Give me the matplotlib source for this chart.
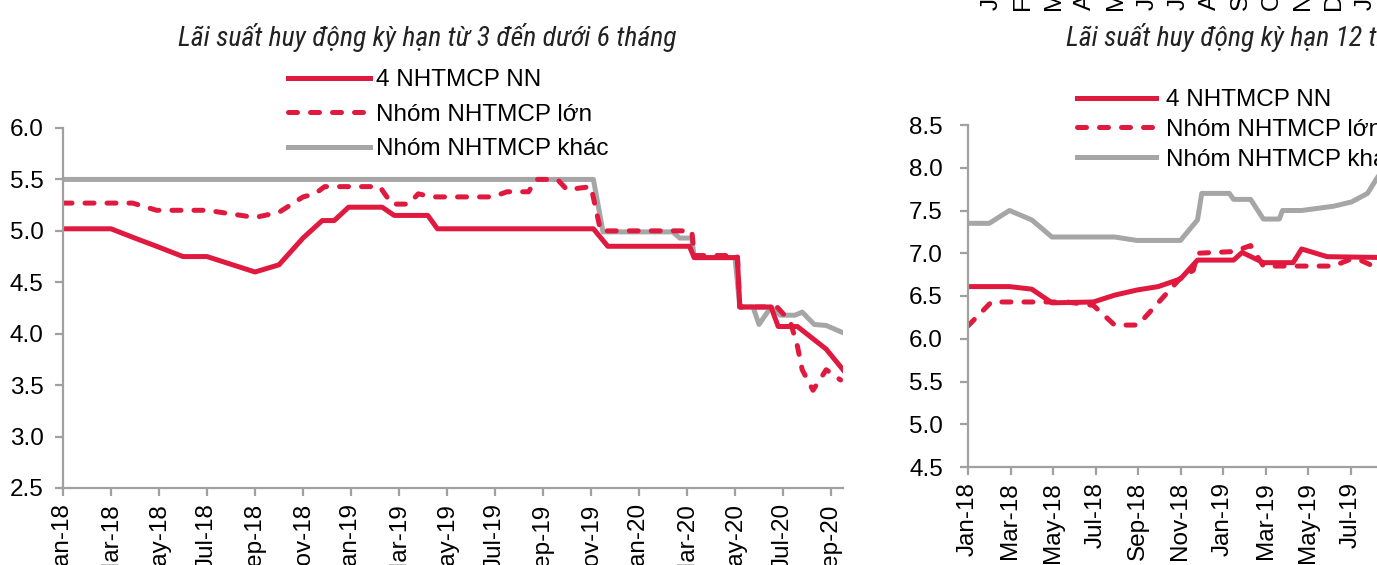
import matplotlib
matplotlib.use("Agg")
import matplotlib.pyplot as plt
from matplotlib import font_manager

RED = "#E0193F"
GREY = "#A6A6A6"
SPINE = "#A0A0A0"

labels = ["4 NHTMCP NN", "Nhóm NHTMCP lớn", "Nhóm NHTMCP khác"]
tick_labels = ["Jan-18", "Mar-18", "May-18", "Jul-18", "Sep-18", "Nov-18",
               "Jan-19", "Mar-19", "May-19", "Jul-19", "Sep-19", "Nov-19",
               "Jan-20", "Mar-20", "May-20", "Jul-20", "Sep-20"]
# labels of the chart above, only their first letters show at the top edge
top_labels = ["Jan-19", "Feb-19", "Mar-19", "Apr-19", "May-19", "Jun-19", "Jul-19",
              "Aug-19", "Sep-19", "Oct-19", "Nov-19", "Dec-19", "Jan-20"]

# x = months since Jan-18
# --- 3 to under 6 months ---
s_nn_x = [0, 2, 3.1, 3.9, 5, 6, 8, 9, 10, 10.8, 11.3, 11.9, 13.3, 13.8, 15.2, 15.6,
          22.1, 22.7, 26.1, 26.3, 28.1, 28.2, 29.5, 29.8, 30.6, 31.8, 32.5]
s_nn_y = [5.02, 5.02, 4.92, 4.85, 4.75, 4.75, 4.60, 4.67, 4.93, 5.10, 5.10, 5.23, 5.23, 5.15, 5.15, 5.02,
          5.02, 4.85, 4.85, 4.74, 4.74, 4.26, 4.26, 4.07, 4.07, 3.85, 3.65]
s_lon_x = [0, 2.9, 3.9, 6, 8, 9, 10, 10.5, 10.9, 13.2, 13.7, 14.4, 14.8, 15.4, 17.9, 18.5,
           19.4, 19.7, 20.6, 21, 22, 22.4, 26.2, 26.3, 28.1, 28.2, 29.75, 30.3, 30.6, 30.8,
           31.25, 31.8, 32.4]
s_lon_y = [5.27, 5.27, 5.20, 5.20, 5.13, 5.18, 5.33, 5.36, 5.43, 5.43, 5.26, 5.26, 5.36, 5.33, 5.33, 5.38,
           5.38, 5.50, 5.50, 5.40, 5.43, 5.00, 5.00, 4.76, 4.76, 4.26, 4.26, 4.12, 3.88, 3.65,
           3.45, 3.65, 3.55]
s_khac_x = [0, 22.1, 22.5, 25.4, 25.7, 26.2, 26.3, 28.0, 28.2, 28.75, 29.0, 29.5, 29.9, 30.5,
            30.8, 31.3, 31.8, 32.5]
s_khac_y = [5.50, 5.50, 4.99, 4.99, 4.93, 4.93, 4.74, 4.74, 4.26, 4.26, 4.09, 4.26, 4.18, 4.18,
            4.21, 4.09, 4.08, 4.01]

# --- 12 months ---
l_nn_x = [0, 1.95, 3.0, 3.95, 5.9, 6.9, 7.95, 8.95, 10, 10.8, 12.5, 12.9, 13.9, 15.3, 15.7, 16.9, 19.6]
l_nn_y = [6.61, 6.61, 6.58, 6.42, 6.43, 6.51, 6.57, 6.61, 6.70, 6.92, 6.92, 7.01, 6.89, 6.89, 7.05, 6.96, 6.95]
l_lon_x = [0, 1.1, 3.85, 4.65, 5.9, 6.9, 8.0, 9.2, 10, 10.6, 10.8, 12.5, 13.3, 13.9, 17.2, 18.0,
           18.45, 19.25, 19.6]
l_lon_y = [6.15, 6.43, 6.43, 6.43, 6.39, 6.16, 6.16, 6.49, 6.71, 6.80, 7.00, 7.02, 7.09, 6.85, 6.85, 6.93,
           6.92, 6.83, 6.82]
l_khac_x = [0, 1.0, 1.95, 3.0, 3.95, 6.9, 7.95, 10.0, 10.8, 11.0, 12.3, 12.5, 13.3, 13.9, 14.65,
            14.8, 15.7, 17.2, 18.05, 18.8, 19.25, 19.6]
l_khac_y = [7.35, 7.35, 7.50, 7.39, 7.19, 7.19, 7.15, 7.15, 7.39, 7.70, 7.70, 7.63, 7.63, 7.40, 7.40,
            7.50, 7.50, 7.55, 7.60, 7.70, 7.88, 8.0]

plt.rcParams["font.family"] = ["Liberation Sans", "DejaVu Sans"]

# a narrow italic face for the titles, if one is installed
names = {f.name for f in font_manager.fontManager.ttflist}
narrow = None
for cand in ["Liberation Sans Narrow", "Roboto Condensed", "Open Sans Condensed",
             "DejaVu Sans Condensed", "Noto Sans Condensed"]:
    if cand in names:
        narrow = cand
        break
if narrow:
    title_font = dict(family=[narrow, "DejaVu Sans"], style="italic", fontsize=20)
else:
    title_font = dict(family=["Liberation Sans", "DejaVu Sans"], style="italic", fontsize=17)
title_font["color"] = "#222222"

W, H = 1377, 565
fig = plt.figure(figsize=(W / 100, H / 100), dpi=100)


def px_axes(x0, x1, y_top, y_bot):
    return fig.add_axes([x0 / W, 1 - y_bot / H, (x1 - x0) / W, (y_bot - y_top) / H])


def style(ax, ylo, yhi, ypad):
    ax.set_xlim(0, 32.5)
    ax.set_ylim(ylo, yhi)
    ax.set_yticks([ylo + 0.5 * i for i in range(int(round((yhi - ylo) / 0.5)) + 1)])
    ax.yaxis.set_major_formatter(matplotlib.ticker.FormatStrFormatter("%.1f"))
    ax.set_xticks(range(0, 33, 2))
    ax.set_xticklabels(tick_labels, rotation=90)
    for s in ["top", "right"]:
        ax.spines[s].set_visible(False)
    for s in ["left", "bottom"]:
        ax.spines[s].set_color(SPINE)
        ax.spines[s].set_linewidth(1.6)
    ax.tick_params(axis="both", colors=SPINE, width=1.6, length=6, labelcolor="black",
                   labelsize=17.5)
    ax.tick_params(axis="x", pad=5)
    ax.tick_params(axis="y", pad=ypad)


def draw(ax, data):
    (nx, ny), (lx, ly), (kx, ky) = data
    ax.plot(nx, ny, color=RED, lw=3.6, solid_joinstyle="round", label=labels[0])
    ax.plot(lx, ly, color=RED, lw=3.6, dashes=(1.8, 2.6), dash_capstyle="round", label=labels[1])
    ax.plot(kx, ky, color=GREY, lw=3.6, label=labels[2], zorder=1)


ax1 = px_axes(63, 843, 128, 488)
draw(ax1, [(s_nn_x, s_nn_y), (s_lon_x, s_lon_y), (s_khac_x, s_khac_y)])
style(ax1, 2.5, 6.0, 8)
ax1.legend(loc="upper left", bbox_to_anchor=(288 / W, 1 - 69 / H), bbox_transform=fig.transFigure,
           frameon=False, fontsize=17.5, handlelength=3.37, handletextpad=0.25, labelspacing=0.52,
           borderpad=0, borderaxespad=0)

ax2 = px_axes(968, 968 + 32.5 * 21.25, 125, 467)
draw(ax2, [(l_nn_x, l_nn_y), (l_lon_x, l_lon_y), (l_khac_x, l_khac_y)])
style(ax2, 4.5, 8.5, 12)
ax2.legend(loc="upper left", bbox_to_anchor=(1077 / W, 1 - 89 / H), bbox_transform=fig.transFigure,
           frameon=False, fontsize=17.5, handlelength=3.25, handletextpad=0.42, labelspacing=0.32,
           borderpad=0, borderaxespad=0)

fig.text(427 / W, 1 - 38 / H, "Lãi suất huy động kỳ hạn từ 3 đến dưới 6 tháng",
         ha="center", va="center", **title_font)
fig.text(1066 / W, 1 - 38 / H, "Lãi suất huy động kỳ hạn 12 tháng",
         ha="left", va="center", **title_font)

# first letters of the month labels from the chart above, cut by the top edge
for i, lab in enumerate(top_labels):
    fig.text((992 + i * 31.1) / W, 1 - 10 / H, lab, rotation=90, rotation_mode="anchor",
             ha="left", va="center", fontsize=17.5)

fig.savefig("out.png", dpi=100)
